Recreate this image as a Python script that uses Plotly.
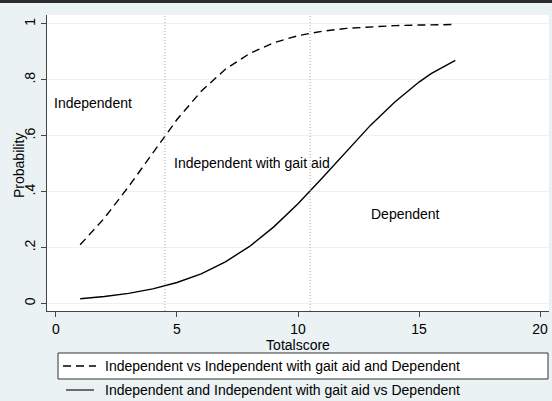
import plotly.graph_objects as go

# Predicted probabilities by total score
totalscore = [1, 2, 3, 4, 5, 6, 7, 8, 9, 10, 11, 12, 13, 14, 15, 15.5, 16.5]
p_indep_vs_rest = [0.21, 0.305, 0.418, 0.54, 0.658, 0.759, 0.838, 0.894, 0.933,
                   0.958, 0.974, 0.984, 0.99, 0.994, 0.996, 0.997, 0.998]
p_rest_vs_dependent = [0.017, 0.025, 0.036, 0.052, 0.075, 0.106, 0.149, 0.204, 0.274,
                       0.357, 0.449, 0.545, 0.638, 0.721, 0.792, 0.822, 0.87]

cutpoints = [4.5, 10.5]
x_ticks = [0, 5, 10, 15, 20]
y_ticks = [0, 0.2, 0.4, 0.6, 0.8, 1]
y_tick_text = ["0", ".2", ".4", ".6", ".8", "1"]

series_names = [
    "Independent vs Independent with gait aid and Dependent",
    "Independent and Independent with gait aid vs Dependent",
]
region_labels = ["Independent", "Independent with gait aid", "Dependent"]
region_x = [-0.15, 4.8, 12.95]
region_y = [0.717, 0.503, 0.32]

BG = "#eaf2f3"
FONT = "Liberation Sans, Arial, sans-serif"
W, H = 552, 401
L, R, T, B = 47, 3, 15, 90

fig = go.Figure()
fig.add_trace(go.Scatter(x=totalscore, y=p_indep_vs_rest, mode="lines",
                         name=series_names[0],
                         line=dict(color="black", width=1.4, dash="8px,5px")))
fig.add_trace(go.Scatter(x=totalscore, y=p_rest_vs_dependent, mode="lines",
                         name=series_names[1],
                         line=dict(color="black", width=1.4)))

for c in cutpoints:
    fig.add_vline(x=c, line=dict(color="#a8a8a8", width=1, dash="1px,2px"))

for txt, xx, yy in zip(region_labels, region_x, region_y):
    fig.add_annotation(x=xx, y=yy, text=txt, showarrow=False, xanchor="left",
                       yanchor="middle", font=dict(size=14, color="black", family=FONT))

# Helpers to place items in pixel terms relative to the plot area
pw, ph = W - L - R, H - T - B
def px(xp):
    return (xp - L) / pw
def py(yp):
    return (H - B - yp) / ph

# Y-axis title, tucked against the rotated tick labels
fig.add_annotation(xref="paper", yref="paper", x=px(19), y=py(166), text="Probability",
                   textangle=-90, showarrow=False, xanchor="center", yanchor="middle",
                   font=dict(size=14, color="black", family=FONT))

# Legend drawn below the plot
fig.add_shape(type="rect", xref="paper", yref="paper",
              x0=px(58), x1=px(548), y0=py(379), y1=py(353),
              fillcolor="white", line=dict(color="#333333", width=1), layer="below")
fig.add_shape(type="line", xref="paper", yref="paper",
              x0=px(63), x1=px(96), y0=py(366), y1=py(366),
              line=dict(color="black", width=1.4, dash="8px,5px"))
fig.add_shape(type="line", xref="paper", yref="paper",
              x0=px(66), x1=px(94), y0=py(390), y1=py(390),
              line=dict(color="#333333", width=1.4))
for name, yp in zip(series_names, [366, 390]):
    fig.add_annotation(xref="paper", yref="paper", x=px(103), y=py(yp), text=name,
                       showarrow=False, xanchor="left", yanchor="middle",
                       font=dict(size=14, color="black", family=FONT))

# Top border strip
fig.add_shape(type="rect", xref="paper", yref="paper",
              x0=px(0), x1=px(W), y0=py(3), y1=py(0),
              fillcolor="#2b2b2b", line=dict(width=0))

fig.update_layout(
    width=W, height=H,
    margin=dict(l=L, r=R, t=T, b=B),
    paper_bgcolor=BG, plot_bgcolor="white",
    showlegend=False,
    font=dict(family=FONT, size=14, color="black"),
    xaxis=dict(range=[-0.37, 20.37], tickvals=x_ticks, ticks="outside", ticklen=5,
               tickcolor="#444", showline=True, linecolor="#444", linewidth=1,
               showgrid=False, zeroline=False,
               title=dict(text="Totalscore", standoff=1, font=dict(size=14)),
               tickfont=dict(size=14)),
    yaxis=dict(range=[-0.027, 1.032], tickvals=y_ticks, ticktext=y_tick_text,
               tickangle=-90, ticks="outside", ticklen=5, tickcolor="#444",
               showline=True, linecolor="#444", linewidth=1,
               showgrid=True, gridcolor=BG, gridwidth=1, zeroline=False,
               tickfont=dict(size=14)),
)

fig.write_html("out.html")
